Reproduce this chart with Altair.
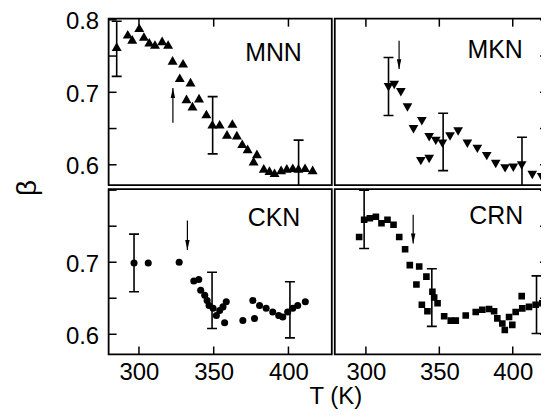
import altair as alt
import pandas as pd

FONT = "Liberation Sans"

# ---------------- data ----------------
MNN_T = [285.1, 292.5, 295.5, 300.2, 303.3, 306.9, 310.7, 315.5, 319.5, 322.5,
         329.5, 327.3, 334.5, 331.8, 335.8, 340.2, 345.1, 349.1, 354.0, 362.5,
         358.9, 365.5, 369.1, 372.7, 378.9, 376.7, 383.5, 387.3, 390.7, 395.1,
         398.9, 402.9, 406.7, 411.1, 416.2]
MNN_B = [0.763, 0.780, 0.773, 0.789, 0.777, 0.769, 0.766, 0.771, 0.766, 0.744,
         0.740, 0.720, 0.714, 0.691, 0.681, 0.692, 0.670, 0.656, 0.656, 0.657,
         0.642, 0.641, 0.629, 0.622, 0.615, 0.605, 0.595, 0.592, 0.589, 0.593,
         0.595, 0.596, 0.595, 0.596, 0.593]
MNN_ERR_T = [285.1, 349.3, 406.8]
MNN_ERR_LO = [0.722, 0.615, 0.558]
MNN_ERR_HI = [0.798, 0.694, 0.634]
MNN_ARROW = [322.7, 0.658, 0.706]   # T, tail, head

MKN_T = [315.4, 319.3, 323.8, 328.3, 332.4, 338.1, 343.1, 347.6, 352.1, 357.3,
         362.8, 337.4, 343.1, 369.1, 375.9, 382.3, 388.4, 394.8, 400.4, 406.1,
         413.3, 419.7]
MKN_B = [0.707, 0.710, 0.700, 0.679, 0.649, 0.660, 0.638, 0.633, 0.629, 0.639,
         0.646, 0.605, 0.608, 0.629, 0.622, 0.612, 0.601, 0.595, 0.596, 0.599,
         0.586, 0.583]
MKN_ERR_T = [315.4, 352.6, 406.3]
MKN_ERR_LO = [0.668, 0.592, 0.562]
MKN_ERR_HI = [0.748, 0.671, 0.638]
MKN_ARROW = [322.6, 0.771, 0.732]

CKN_T = [296.7, 306.2, 326.9, 336.7, 340.0, 341.3, 344.0, 345.6, 346.9, 349.6,
         351.8, 354.0, 356.2, 358.4, 357.3, 369.5, 377.3, 376.2, 380.7, 385.1,
         389.5, 393.5, 396.2, 399.5, 402.9, 406.2, 411.3]
CKN_B = [0.699, 0.699, 0.700, 0.674, 0.676, 0.661, 0.654, 0.647, 0.640, 0.636,
         0.626, 0.633, 0.638, 0.645, 0.616, 0.619, 0.622, 0.647, 0.640, 0.636,
         0.631, 0.626, 0.624, 0.631, 0.636, 0.640, 0.645]
CKN_ERR_T = [296.7, 348.9, 401.0]
CKN_ERR_LO = [0.659, 0.608, 0.595]
CKN_ERR_HI = [0.739, 0.686, 0.673]
CKN_ARROW = [332.4, 0.758, 0.717]

CRN_T = [295.4, 298.8, 302.7, 306.8, 310.6, 314.7, 318.8, 322.7, 326.7, 329.9,
         336.3, 341.2, 334.4, 345.3, 346.5, 348.8, 338.1, 341.9, 353.3, 357.8,
         361.2, 368.0, 374.8, 379.3, 383.9, 387.3, 389.5, 392.9, 394.6, 399.7,
         397.5, 402.0, 406.5, 406.1, 411.1, 415.6, 420.1, 423.5]
CRN_B = [0.735, 0.759, 0.761, 0.763, 0.754, 0.759, 0.752, 0.735, 0.718, 0.696,
         0.694, 0.680, 0.669, 0.659, 0.651, 0.643, 0.641, 0.632, 0.625, 0.619,
         0.619, 0.626, 0.631, 0.634, 0.635, 0.632, 0.622, 0.615, 0.606, 0.613,
         0.624, 0.631, 0.636, 0.653, 0.638, 0.641, 0.643, 0.644]
CRN_ERR_T = [298.8, 344.9, 416.2]
CRN_ERR_LO = [0.719, 0.611, 0.601]
CRN_ERR_HI = [0.800, 0.691, 0.681]
CRN_ARROW = [332.2, 0.766, 0.726]

Y_TICKS = [0.6, 0.65, 0.7, 0.75, 0.8]
Y_LABELS_TOP = [0.6, 0.7, 0.8]
Y_LABELS_BOTTOM = [0.6, 0.7]
X_TICKS = [300, 350, 400]

YDOM = [0.572, 0.8015]
XDOM_L = [279.7, 429.0]
XDOM_R = [278.8, 424.0]
W_L, W_R, H_T, H_B = 224, 214, 167, 166

ARROW_DOWN = "M0,0L-0.45,-2L0.45,-2Z"
ARROW_UP = "M0,0L-0.45,2L0.45,2Z"


def make_panel(name, T, B, shape, size, eT, eLo, eHi, arrow, arrow_path,
               label_xy, w, h, xdom, is_left, is_top, extras=()):
    xs = alt.Scale(domain=xdom, nice=False, zero=False)
    ys = alt.Scale(domain=YDOM, nice=False, zero=False)
    if is_top:
        xaxis = None
    else:
        xaxis = alt.Axis(values=X_TICKS, format="d", labelFontSize=24,
                         labelPadding=6, ticks=False, domain=False, grid=False,
                         labelFlush=False, labelFont=FONT, labelColor="black",
                         title=None)
    if is_left:
        yaxis = alt.Axis(values=Y_LABELS_TOP if is_top else Y_LABELS_BOTTOM,
                         format=".1f", labelFontSize=24, labelOffset=2,
                         labelPadding=10, ticks=False, domain=False, grid=False,
                         labelFlush=False, labelFont=FONT, labelColor="black",
                         title=None)
    else:
        yaxis = None

    def X(f):
        return alt.X(f, type="quantitative", scale=xs, axis=xaxis)

    def Y(f):
        return alt.Y(f, type="quantitative", scale=ys, axis=yaxis)

    pts = pd.DataFrame({"T": T, "beta": B})
    err = pd.DataFrame({"T": eT, "lo": eLo, "hi": eHi})
    arr = pd.DataFrame({"T": [arrow[0]], "tail": [arrow[1]], "head": [arrow[2]]})
    yt = pd.DataFrame({"b": Y_TICKS})
    xt = pd.DataFrame({"t": X_TICKS})
    lab = pd.DataFrame({"name": [name]})

    if is_left:
        ytick = alt.Chart(yt).mark_rule(color="black", strokeWidth=1.5).encode(
            y=Y("b"), x=alt.value(0), x2=alt.value(8))
    else:
        ytick = alt.Chart(yt).mark_rule(color="black", strokeWidth=1.5).encode(
            y=Y("b"), x=alt.value(w - 8), x2=alt.value(w))
    if is_top:
        xtick = alt.Chart(xt).mark_rule(color="black", strokeWidth=1.5).encode(
            x=X("t"), y=alt.value(0), y2=alt.value(8))
    else:
        xtick = alt.Chart(xt).mark_rule(color="black", strokeWidth=1.5).encode(
            x=X("t"), y=alt.value(h - 8), y2=alt.value(h))

    bars = alt.Chart(err).mark_rule(color="black", strokeWidth=1.6, clip=True).encode(
        x=X("T"), y=Y("lo"), y2="hi")
    cap_lo = alt.Chart(err).mark_tick(color="black", orient="horizontal", size=10,
                                      thickness=1.6, opacity=1, clip=True).encode(
        x=X("T"), y=Y("lo"))
    cap_hi = alt.Chart(err).mark_tick(color="black", orient="horizontal", size=10,
                                      thickness=1.6, opacity=1, clip=True).encode(
        x=X("T"), y=Y("hi"))
    points = alt.Chart(pts).mark_point(shape=shape, filled=True, size=size,
                                       color="black", opacity=1, clip=True).encode(
        x=X("T"), y=Y("beta"))
    shaft = alt.Chart(arr).mark_rule(color="black", strokeWidth=1.2).encode(
        x=X("T"), y=Y("tail"), y2="head")
    head = alt.Chart(arr).mark_point(shape=arrow_path, filled=True, size=100,
                                     color="black", opacity=1, strokeWidth=0).encode(
        x=X("T"), y=Y("head"))
    label = alt.Chart(lab).mark_text(font=FONT, fontSize=25, align="center",
                                     baseline="alphabetic", color="black").encode(
        x=alt.value(label_xy[0]), y=alt.value(label_xy[1]), text="name:N")

    layers = [ytick, xtick, bars, cap_lo, cap_hi, points, shaft, head, label]
    layers += list(extras)
    return alt.layer(*layers).properties(width=w, height=h)


beta_title = alt.Chart(pd.DataFrame({"s": ["β"]})).mark_text(
    font=FONT, fontSize=28, angle=270, align="center", baseline="middle",
    color="black").encode(x=alt.value(-81), y=alt.value(170), text="s:N")

x_title = alt.Chart(pd.DataFrame({"s": ["T (K)"]})).mark_text(
    font=FONT, fontSize=24, align="center", baseline="alphabetic",
    color="black").encode(x=alt.value(228), y=alt.value(216), text="s:N")

mnn = make_panel("MNN", MNN_T, MNN_B, "triangle-up", 100, MNN_ERR_T, MNN_ERR_LO,
                 MNN_ERR_HI, MNN_ARROW, ARROW_UP, (165.5, 42.3), W_L, H_T, XDOM_L,
                 True, True, extras=[beta_title])
mkn = make_panel("MKN", MKN_T, MKN_B, "triangle-down", 95, MKN_ERR_T, MKN_ERR_LO,
                 MKN_ERR_HI, MKN_ARROW, ARROW_DOWN, (161, 39), W_R, H_T, XDOM_R,
                 False, True)
ckn = make_panel("CKN", CKN_T, CKN_B, "circle", 50, CKN_ERR_T, CKN_ERR_LO,
                 CKN_ERR_HI, CKN_ARROW, ARROW_DOWN, (166, 37), W_L, H_B, XDOM_L,
                 True, False, extras=[x_title])
crn = make_panel("CRN", CRN_T, CRN_B, "square", 44, CRN_ERR_T, CRN_ERR_LO,
                 CRN_ERR_HI, CRN_ARROW, ARROW_DOWN, (162, 35), W_R, H_B, XDOM_R,
                 False, False)

chart = alt.concat(mnn, mkn, ckn, crn, columns=2, bounds="flush",
                   spacing={"row": 4, "column": 3}).properties(
    padding={"left": 5, "top": 0, "right": -9, "bottom": 0},
    background="white",
).configure_view(stroke="black", strokeWidth=1.8)

chart.save("out.html", embed_options={"renderer": "svg", "actions": False})
